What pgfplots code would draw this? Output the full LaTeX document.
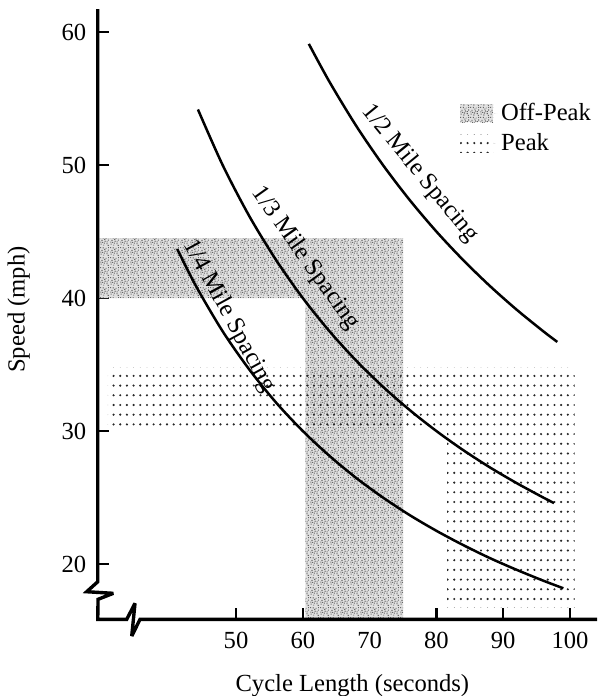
\documentclass[border=0pt]{standalone}
\usepackage{fontspec}
\setmainfont{Liberation Serif}
\usepackage{pgfplots}
\pgfplotsset{compat=1.18}
\usetikzlibrary{patterns}

\pgfdeclarepatternformonly{peakdots}{\pgfqpoint{-1pt}{-1pt}}{\pgfqpoint{1pt}{1pt}}{\pgfqpoint{3.34pt}{4.85pt}}{%
  \pgfpathcircle{\pgfqpoint{0pt}{0pt}}{0.6pt}\pgfusepath{fill}}

\pgfdeclarepatternformonly{grain}{\pgfqpoint{0pt}{0pt}}{\pgfqpoint{5pt}{5pt}}{\pgfqpoint{5pt}{5pt}}{%
  \pgfpathrectangle{\pgfqpoint{0.3pt}{0.7pt}}{\pgfqpoint{0.6pt}{0.6pt}}%
  \pgfpathrectangle{\pgfqpoint{1.8pt}{0.2pt}}{\pgfqpoint{0.5pt}{0.6pt}}%
  \pgfpathrectangle{\pgfqpoint{3.5pt}{1.0pt}}{\pgfqpoint{0.7pt}{0.5pt}}%
  \pgfpathrectangle{\pgfqpoint{4.3pt}{2.9pt}}{\pgfqpoint{0.6pt}{0.6pt}}%
  \pgfpathrectangle{\pgfqpoint{2.6pt}{2.3pt}}{\pgfqpoint{0.5pt}{0.7pt}}%
  \pgfpathrectangle{\pgfqpoint{0.8pt}{2.8pt}}{\pgfqpoint{0.6pt}{0.5pt}}%
  \pgfpathrectangle{\pgfqpoint{1.5pt}{4.2pt}}{\pgfqpoint{0.6pt}{0.6pt}}%
  \pgfpathrectangle{\pgfqpoint{3.1pt}{4.0pt}}{\pgfqpoint{0.5pt}{0.5pt}}%
  \pgfpathrectangle{\pgfqpoint{4.2pt}{0.1pt}}{\pgfqpoint{0.6pt}{0.5pt}}%
  \pgfpathrectangle{\pgfqpoint{0.1pt}{4.3pt}}{\pgfqpoint{0.5pt}{0.6pt}}%
  \pgfpathrectangle{\pgfqpoint{2.1pt}{1.3pt}}{\pgfqpoint{0.6pt}{0.6pt}}%
  \pgfpathrectangle{\pgfqpoint{1.2pt}{1.7pt}}{\pgfqpoint{0.5pt}{0.5pt}}%
  \pgfpathrectangle{\pgfqpoint{3.6pt}{2.0pt}}{\pgfqpoint{0.6pt}{0.6pt}}%
  \pgfpathrectangle{\pgfqpoint{2.3pt}{3.4pt}}{\pgfqpoint{0.6pt}{0.5pt}}%
  \pgfpathrectangle{\pgfqpoint{4.4pt}{4.3pt}}{\pgfqpoint{0.5pt}{0.6pt}}%
  \pgfpathrectangle{\pgfqpoint{0.2pt}{1.9pt}}{\pgfqpoint{0.5pt}{0.5pt}}%
  \pgfusepath{fill}}

\pgfplotsset{patchlegend/.style={legend image code/.code={%
  \path[##1] (0pt,-4.5pt) rectangle (16.5pt,4.5pt);
  \path (16.5pt,0pt) -- (18.5pt,0pt);}}}

\begin{document}
\begin{tikzpicture}[font=\fontsize{12.3}{14.5}\selectfont]
\begin{axis}[
  x=3.34pt, y=6.65pt,
  xmin=29.3, xmax=104.04, ymin=15.86, ymax=62.41,
  axis lines=left, axis line style={draw=none},
  clip=false,
  xtick={50,60,...,100}, ytick={20,30,...,60},
  tick align=inside, major tick length=5.5pt,
  tick style={black, line width=1.2pt},
  /pgf/number format/assume math mode=true,
  xticklabel style={yshift=-2.8pt},
  yticklabel style={xshift=-2.2pt},
  xlabel={Cycle Length (seconds)},
  ylabel={Speed (mph)},
  xlabel style={at={([xshift=2.5pt,yshift=-33pt]axis description cs:0.5,0)}, anchor=center, inner sep=0pt},
  ylabel style={at={([xshift=-39.5pt]axis description cs:0,0.5)}, anchor=center, inner sep=0pt},
  legend style={at={(axis cs:83.5,55.0)}, anchor=north west, draw=none, fill=none,
    inner sep=0pt, row sep=1pt, font=\fontsize{12.3}{14.5}\selectfont},
  legend cell align=left,
]
\addplot[draw=none, preaction={fill=black!12}, pattern=grain, pattern color=black!60, patchlegend]
  coordinates {(29.3,40) (29.3,44.5) (75.0,44.5) (75.0,15.86) (60.4,15.86) (60.4,40)} -- cycle;
\addlegendentry{Off-Peak}
\addplot[draw=none, pattern=peakdots, pattern color=black!85, patchlegend]
  coordinates {(30.8,30) (30.8,34.8) (100.7,34.8) (100.7,16.7) (81.6,16.7) (81.6,30)} -- cycle;
\addlegendentry{Peak}

% 1/4 mile spacing
\addplot[black, line width=1.25pt, smooth, forget plot] coordinates {
 (41.2,43.69) (44,40.91) (48,37.50) (52,34.62) (56,32.14) (60,30.00) (64,28.13)
 (68,26.47) (72,25.00) (76,23.68) (80,22.50) (84,21.43) (88,20.45) (92,19.57)
 (96,18.75) (99,18.18)};
% 1/3 mile spacing
\addplot[black, line width=1.25pt, smooth, forget plot] coordinates {
 (44.3,54.18) (48,50.00) (52,46.15) (56,42.86) (60,40.00) (64,37.50) (68,35.29)
 (72,33.33) (76,31.58) (80,30.00) (84,28.57) (88,27.27) (92,26.09) (96,25.00) (97.6,24.59)};
% 1/2 mile spacing
\addplot[black, line width=1.25pt, smooth, forget plot] coordinates {
 (60.9,59.11) (64,56.25) (68,52.94) (72,50.00) (76,47.37) (80,45.00) (84,42.86)
 (88,40.91) (92,39.13) (96,37.50) (98.1,36.70)};

\node[rotate=-61.4] at (axis cs:48.95,38.65) {1/4 Mile Spacing};
\node[rotate=-54.5] at (axis cs:60.4,42.97) {1/3 Mile Spacing};
\node[rotate=-50.7] at (axis cs:77.54,49.36) {1/2 Mile Spacing};

\draw[line width=1.7pt, line join=miter, miter limit=4]
  (axis cs:29.3,61.73) -- (axis cs:29.3,18.67) -- (axis cs:27.65,17.92)
  -- (axis cs:31.63,17.80) -- (axis cs:29.35,17.35) -- (axis cs:29.3,15.84)
  -- (axis cs:33.64,15.84) -- (axis cs:34.88,17.05) -- (axis cs:34.39,14.59)
  -- (axis cs:35.63,15.84) -- (axis cs:104.04,15.84);
\coordinate (bbl) at (axis cs:14.67,10.08);
\coordinate (btr) at (axis cs:104.04,62.41);
\end{axis}
\pgfresetboundingbox
\path[use as bounding box] (bbl) rectangle (btr);
\end{tikzpicture}
\end{document}
